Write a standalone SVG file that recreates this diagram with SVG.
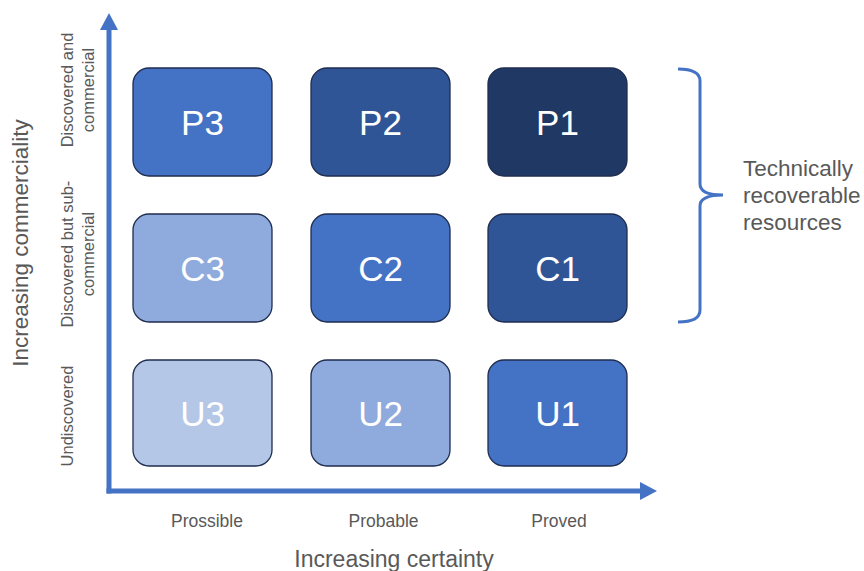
<svg xmlns="http://www.w3.org/2000/svg" width="864" height="571" viewBox="0 0 864 571">
<style>
  .box { stroke: #1F2D50; stroke-width: 1.3; }
  .bt { font-family: "Liberation Sans", Arial, sans-serif; font-size: 35px; fill: #FFFFFF; text-anchor: middle; }
  .lbl { font-family: "Liberation Sans", Arial, sans-serif; fill: #595959; }
  .axis { stroke: #4472C4; stroke-width: 5; fill: none; }
  .head { fill: #4472C4; }
</style>
<rect width="864" height="571" fill="#FFFFFF"/>

<g id="connectors">
  <line class="axis" x1="109" y1="493.5" x2="109" y2="28"/>
  <polygon class="head" points="109,13 100,30 118,30"/>
  <line class="axis" x1="106.5" y1="491" x2="642" y2="491"/>
  <polygon class="head" points="657,491 640,482 640,500"/>
  <path d="M678,69 Q700,69 700,81 L700,184 Q700,195 723,195 Q700,195 700,206 L700,310 Q700,322 678,322" fill="none" stroke="#4472C4" stroke-width="3"/>
</g>

<g id="P3"><rect class="box" x="133" y="68" width="139" height="108" rx="16" fill="#4472C4"/><text class="bt" x="202.5" y="134.5">P3</text></g>
<g id="P2"><rect class="box" x="311" y="68" width="139" height="108" rx="16" fill="#2F5597"/><text class="bt" x="380.5" y="134.5">P2</text></g>
<g id="P1"><rect class="box" x="488" y="68" width="139" height="108" rx="16" fill="#203864"/><text class="bt" x="557.5" y="134.5">P1</text></g>

<g id="C3"><rect class="box" x="133" y="214" width="139" height="108" rx="16" fill="#8FAADC"/><text class="bt" x="202.5" y="280.5">C3</text></g>
<g id="C2"><rect class="box" x="311" y="214" width="139" height="108" rx="16" fill="#4472C4"/><text class="bt" x="380.5" y="280.5">C2</text></g>
<g id="C1"><rect class="box" x="488" y="214" width="139" height="108" rx="16" fill="#2F5597"/><text class="bt" x="557.5" y="280.5">C1</text></g>

<g id="U3"><rect class="box" x="133" y="360" width="139" height="106" rx="16" fill="#B4C7E7"/><text class="bt" x="202.5" y="425.5">U3</text></g>
<g id="U2"><rect class="box" x="311" y="360" width="139" height="106" rx="16" fill="#8FAADC"/><text class="bt" x="380.5" y="425.5">U2</text></g>
<g id="U1"><rect class="box" x="488" y="360" width="139" height="106" rx="16" fill="#4472C4"/><text class="bt" x="557.5" y="425.5">U1</text></g>

<g id="y-labels" class="lbl" font-size="16.5" text-anchor="middle">
  <text transform="translate(73,90) rotate(-90)">Discovered and</text>
  <text transform="translate(94,90) rotate(-90)">commercial</text>
  <text transform="translate(73,254) rotate(-90)">Discovered but sub-</text>
  <text transform="translate(94,254) rotate(-90)">commercial</text>
  <text transform="translate(73,416) rotate(-90)">Undiscovered</text>
</g>

<g id="y-title" class="lbl" font-size="22.5" text-anchor="middle">
  <text transform="translate(28,243) rotate(-90)">Increasing commerciality</text>
</g>

<g id="x-labels" class="lbl" font-size="17.5" text-anchor="middle">
  <text x="207" y="527">Prossible</text>
  <text x="383.5" y="527">Probable</text>
  <text x="559" y="527">Proved</text>
</g>

<g id="x-title" class="lbl" font-size="23" text-anchor="middle">
  <text x="394" y="567">Increasing certainty</text>
</g>

<g id="bracket-label" class="lbl" font-size="22.5">
  <text x="743" y="176">Technically</text>
  <text x="743" y="203">recoverable</text>
  <text x="743" y="230">resources</text>
</g>
</svg>
